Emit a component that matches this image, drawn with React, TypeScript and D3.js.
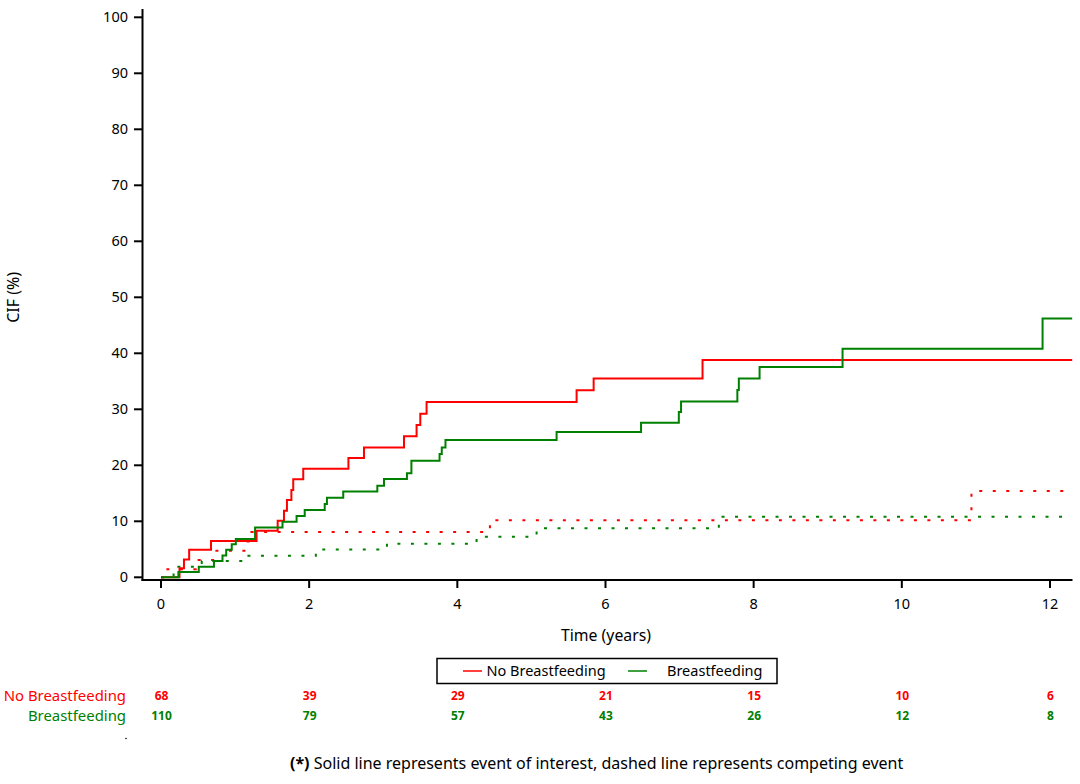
import React from "react";
import * as d3 from "d3";

// ---- data ----
const xTicks = [0, 2, 4, 6, 8, 10, 12];
const yTicks = [0, 10, 20, 30, 40, 50, 60, 70, 80, 90, 100];

const noBfEventTime = [0, 0.25, 0.31, 0.38, 0.675, 1.29, 1.575, 1.66, 1.70, 1.76, 1.785, 1.92, 2.53, 2.74, 3.28, 3.45, 3.50, 3.585, 5.61, 5.84, 7.31, 12.3];
const noBfEventCif = [0, 1.6, 3.2, 4.9, 6.5, 8.3, 10.1, 11.9, 13.8, 15.6, 17.5, 19.4, 21.3, 23.2, 25.2, 27.2, 29.2, 31.3, 33.4, 35.5, 38.8, 38.8];

const bfEventTime = [0, 0.235, 0.51, 0.715, 0.83, 0.88, 0.955, 1.01, 1.27, 1.64, 1.83, 1.94, 2.21, 2.24, 2.46, 2.92, 3.01, 3.32, 3.38, 3.76, 3.79, 3.84, 5.34, 6.48, 6.99, 7.02, 7.78, 7.80, 8.08, 9.20, 11.90, 12.3];
const bfEventCif = [0, 0.95, 1.9, 2.9, 3.9, 4.9, 5.9, 6.85, 8.9, 9.9, 10.95, 12.0, 13.1, 14.2, 15.3, 16.35, 17.55, 18.6, 20.8, 22.0, 23.2, 24.5, 25.95, 27.6, 29.5, 31.4, 33.45, 35.5, 37.55, 40.8, 46.2, 46.2];

const noBfCompTime = [0, 0.05, 0.47, 0.72, 1.14, 1.22, 4.44, 10.94, 12.3];
const noBfCompCif = [0, 1.45, 3.1, 4.75, 6.4, 8.1, 10.2, 15.4, 15.4];

const bfCompTime = [0, 0.17, 0.55, 1.10, 2.09, 3.05, 4.26, 5.07, 7.53, 12.3];
const bfCompCif = [0, 1.9, 2.9, 3.85, 4.95, 6.0, 7.25, 8.75, 10.8, 10.8];

const groups = ["No Breastfeeding", "Breastfeeding"];
const riskTimes = [0, 2, 4, 6, 8, 10, 12];
const riskNoBf = [68, 39, 29, 21, 15, 10, 6];
const riskBf = [110, 79, 57, 43, 26, 12, 8];

const RED = "#ff0000";
const GREEN = "#008000";
const FONT = "'Noto Sans', 'Open Sans', sans-serif";

export default function App() {
  const W = 1080, H = 784;
  const x = d3.scaleLinear().domain([0, 12.3]).range([161, 1072.2]);
  const y = d3.scaleLinear().domain([0, 100]).range([577.3, 17.3]);
  const line = d3.line<[number, number]>()
    .x((d) => x(d[0]))
    .y((d) => y(d[1]))
    .curve(d3.curveStepAfter);
  const zip = (t: number[], v: number[]) => t.map((ti, i) => [ti, v[i]] as [number, number]);

  const axisY = 580;
  const axisX = 142.5;

  return (
    <svg width={W} height={H} viewBox={`0 0 ${W} ${H}`}
      style={{ position: "absolute", left: 0, top: 0, background: "#fff", fontFamily: FONT }}>
      <rect width={W} height={H} fill="#fff" />
      {/* curves */}
      <path d={line(zip(noBfCompTime, noBfCompCif)) || ""} fill="none" stroke={RED} strokeWidth={2} strokeDasharray="3 10.5" />
      <path d={line(zip(bfCompTime, bfCompCif)) || ""} fill="none" stroke={GREEN} strokeWidth={2} strokeDasharray="3 10.5" />
      <path d={line(zip(noBfEventTime, noBfEventCif)) || ""} fill="none" stroke={RED} strokeWidth={2} />
      <path d={line(zip(bfEventTime, bfEventCif)) || ""} fill="none" stroke={GREEN} strokeWidth={2} />

      {/* y axis */}
      <line x1={axisX} x2={axisX} y1={9} y2={axisY + 1} stroke="#000" strokeWidth={2} />
      {yTicks.map((t) => (
        <g key={"y" + t}>
          <line x1={134} x2={axisX} y1={y(t)} y2={y(t)} stroke="#000" strokeWidth={2} />
          <text x={128} y={y(t)} dy="0.35em" textAnchor="end" fontSize={14.5} fill="#000">{t}</text>
        </g>
      ))}
      <text transform={`translate(13,${y(50)}) rotate(-90)`} dy="0.35em" textAnchor="middle" fontSize={16} fill="#000">CIF (%)</text>

      {/* x axis */}
      <line x1={axisX - 1} x2={1072.5} y1={axisY} y2={axisY} stroke="#000" strokeWidth={2} />
      {xTicks.map((t) => (
        <g key={"x" + t}>
          <line x1={x(t)} x2={x(t)} y1={axisY} y2={588} stroke="#000" strokeWidth={2} />
          <text x={x(t)} y={604} dy="0.35em" textAnchor="middle" fontSize={14.5} fill="#000">{t}</text>
        </g>
      ))}
      <text x={606} y={635} dy="0.35em" textAnchor="middle" fontSize={15.8} fill="#000">Time (years)</text>

      {/* legend */}
      <rect x={437} y={658.5} width={340} height={25} fill="#fff" stroke="#000" strokeWidth={1.5} />
      <line x1={463} x2={482} y1={671} y2={671} stroke={RED} strokeWidth={1.5} />
      <text x={486.5} y={671} dy="0.35em" fontSize={14.5} fill="#000">{groups[0]}</text>
      <line x1={628} x2={647} y1={671} y2={671} stroke={GREEN} strokeWidth={1.5} />
      <text x={667} y={671} dy="0.35em" fontSize={14.5} fill="#000">{groups[1]}</text>

      {/* risk table */}
      <text x={126} y={695.5} dy="0.35em" textAnchor="end" fontSize={14.9} fill={RED}>{groups[0]}</text>
      <text x={126} y={715.5} dy="0.35em" textAnchor="end" fontSize={14.9} fill={GREEN}>{groups[1]}</text>
      {riskTimes.map((t, i) => (
        <g key={"r" + t}>
          <text x={x(t) + 0.5} y={695.5} dy="0.35em" textAnchor="middle" fontSize={12} fontWeight="bold" fill={RED}>{riskNoBf[i]}</text>
          <text x={x(t) + 0.5} y={715.5} dy="0.35em" textAnchor="middle" fontSize={12} fontWeight="bold" fill={GREEN}>{riskBf[i]}</text>
        </g>
      ))}
      <circle cx={126} cy={738.5} r={0.8} fill="#000" />

      {/* footnote */}
      <text x={290} y={763} dy="0.35em" fontSize={16} fill="#000">
        <tspan fontWeight="bold">(*)</tspan> Solid line represents event of interest, dashed line represents competing event
      </text>
    </svg>
  );
}
